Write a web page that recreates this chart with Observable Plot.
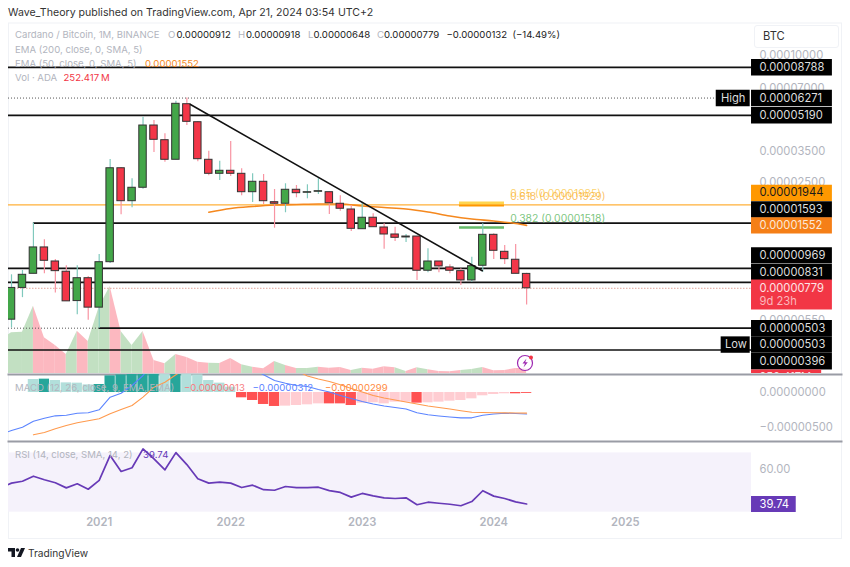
<!DOCTYPE html>
<html><head><meta charset="utf-8">
<style>
html,body{margin:0;padding:0;background:#fff;width:850px;height:567px;overflow:hidden;font-family:Inter,"Noto Sans",sans-serif}
#root{position:relative;width:850px;height:567px}
#root svg.pane{position:absolute;left:0;top:0;background:transparent}
.t{position:absolute;white-space:nowrap;line-height:1;transform:translateY(-50%);color:#b2b5be;font-size:9.6px}
</style>
<script src="https://cdn.jsdelivr.net/npm/d3@7"></script>
<script src="https://cdn.jsdelivr.net/npm/@observablehq/plot@0.6"></script>
</head><body><div id="root"></div>
<script>
// All prices in units of 1e-8 BTC. Month index 0 = May 2020, one candle per month.
const opens  = [552,782,913,1219,1045,934,677,870,630,1037,2905,2024,2345,4641,3951,3187,5863,4812,3187,2733,2825,2733,2234,2504,2002,1968,2294,2220,2244,2234,1968,1848,1489,1688,1517,1405,1360,1374,944,1045,979,940,849,997,1400,1162,1065,912];
const highs  = [903,947,1593,1326,1068,997,997,887,1128,3197,2928,2587,5084,4903,4238,6059,6271,4850,3502,3138,3895,2887,2733,2712,2301,2450,2404,2423,2587,2234,2147,1931,2002,1763,1580,1522,1405,1374,1202,1045,1008,965,1096,1580,1416,1246,1260,918];
const lows   = [504,703,913,913,739,675,583,548,503,1023,1744,1884,2309,3452,3103,3187,4641,3117,2674,2540,2654,2147,1996,1952,1505,1783,2101,2078,2178,1750,1814,1452,1489,1522,1196,1302,1287,849,924,924,913,804,833,929,1068,1012,913,648];
const closes = [782,903,1219,1053,940,675,870,630,1037,2905,2024,2345,4641,3968,3187,5888,4833,3208,2733,2825,2733,2234,2504,2024,1968,2294,2210,2234,2259,1980,1863,1495,1688,1522,1405,1355,1374,944,1045,990,944,849,993,1400,1175,1072,913,779];
const volumeLead = 1700;
const volumes = [2035,2065,3365,1785,1400,950,2115,1600,3315,4350,2100,1400,2100,650,485,950,800,565,515,500,750,435,315,235,600,400,250,250,315,265,300,150,265,215,335,285,100,285,185,100,85,150,200,300,135,150,250,252.417];
const emaMonths = [18,20,22,24,26,28,30,32,34,36,38,40,42,44,46,47];
const emaValues = [1794,1869,1910,1940,1952,1963,1963,1921,1889,1858,1798,1721,1665,1629,1585,1552];
const trendMonths = [16.33,42.95];
const trendValues = [5843,944];
const macdLead = -610;
const macdLine = [-552,-504,-417,-373,-339,-330,-301,-295,-251,-68,-10,102,247,450,560,620,720,730,680,600,530,450,350,257,174,135,102,87,44,7,-44,-87,-131,-167,-196,-218,-240,-295,-324,-341,-356,-368,-368,-330,-312,-301,-305,-312];
const signalLine = [null,null,-615,-581,-527,-479,-440,-411,-382,-309,-247,-189,-68,77,150,257,360,460,530,590,620,620,580,520,460,400,320,240,196,160,112,58,7,-44,-80,-109,-138,-167,-196,-218,-240,-264,-286,-291,-295,-296,-298,-299];
const histogram = [null,null,189,194,174,140,136,111,116,242,256,290,300,300,261,261,261,256,174,136,77,-77,-116,-174,-203,-198,-189,-179,-165,-165,-165,-189,-155,-150,-165,-140,-140,-155,-150,-140,-126,-116,-92,-48,-29,-19,-19,-13];
const histStrong = [3,8,9,10,11,12,13,15,21,22,23,24,29,30,31,37,46,47];
const rsiLead = 49.5;
const rsi = [52.1,53.2,56.2,54.1,52.3,49.3,51.7,48.5,53.7,68.5,59,61.2,72.4,66.5,60,70.2,63.1,54.7,52.1,52.7,52.1,49.5,50.9,48.2,47.9,50.1,49.4,49.5,49.7,47.7,46.6,43.8,46,44.6,43.4,43,43.4,39.3,40.8,40.2,39.6,38.7,41.2,47.6,44.4,43,41,39.74];
const years = [2021,2022,2023,2024,2025];
const priceTicks = [10000,7000,3500,2500,550];
const levels = [{v:8788,from:-1},{v:5190,from:-1},{v:1593,from:2},{v:969,from:-1},{v:831,from:-1},{v:503,from:8},{v:396,from:-1}];
const priceTags = [8788,6271,5190,1944,1593,1552,969,831,503,503,396];
const tagNudge  = [0,0,0,-12,-13.6,0,-13,-10.3,0,16.4,11.2];
const tagFill   = ["#000","#000","#000","#ff9800","#000","#f57f17","#000","#000","#000","#000","#000"];
const tagInk    = ["#ddd","#ddd","#ddd","#1a1a1a","#ddd","#fbe9d7","#ddd","#ddd","#ddd","#ddd","#ddd"];
const lastPrice = 779, athPrice = 6271, lowPrice = 503, fib65 = 1985, fib618 = 1929, fib382 = 1518, emaLine = 1944;

const font = 'Inter,"Noto Sans",sans-serif';
const fmt = v => (v/1e8).toFixed(8);
const signed = v => (v<0?"\u2212":"")+Math.abs(v/1e8).toFixed(8);
const idx = d3.range(48);
const xDomain = [-0.274, 75.73];
const paneEnd = 67.52, tagEnd = 74.9, tagText = 68.25, xLeft = xDomain[0];
const up = "#43a649", down = "#f33648", wickUp = "#80c9bd", wickDown = "#f894a2", ink = "#111";
const root = document.getElementById("root");

function pane(top, bottom, yOpts, marks){
  const p = Plot.plot({
    width:850, height:567, marginTop:top, marginBottom:567-bottom, marginLeft:8, marginRight:9,
    x:{type:"linear", domain:xDomain, axis:null},
    y:{axis:null, ...yOpts},
    color:{type:"identity"},
    style:{fontFamily:font, background:"transparent"},
    marks
  });
  p.classList.add("pane");
  root.appendChild(p);
  return p;
}
const label = (data,o)=>Plot.text(data,{fontSize:11.2,textAnchor:"start",...o});

// outer frame
pane(22.5,538,{domain:[0,1]},[Plot.frame({stroke:"#f0f2f6"})]);

// volume (drawn underneath the price candles)
const volPts = [volumeLead,...volumes];
const volSegs = d3.range(48).flatMap(k=>{
  const i=k, color = closes[i]>=opens[i] ? "#c2e0c2" : "#fcb8c0";
  return [{seg:k,i:i-1,v:volPts[k],color},{seg:k,i:i,v:volPts[k+1],color}];
});
pane(23,373,{type:"linear",domain:[0,17500]},[
  Plot.area(volSegs,{x1:"i",y1:()=>0,y2:"v",z:"seg",fill:"color",clip:true}),
]);

// price pane
const hLine = o=>Plot.ruleY(o.d,{x1:o.a,x2:o.b,y:d=>d,stroke:o.c,strokeWidth:o.w,strokeDasharray:o.dash,clip:true});
const greenIdx = idx.filter(i=>closes[i]>=opens[i]), redIdx = idx.filter(i=>closes[i]<opens[i]);
const wicks = (ii,c)=>Plot.ruleX(ii,{x:i=>i,y1:i=>lows[i],y2:i=>highs[i],stroke:c,strokeWidth:1.2,clip:true});
const bodies = (ii,c)=>Plot.rect(ii,{x1:i=>i-.34,x2:i=>i+.34,y1:i=>opens[i],y2:i=>closes[i],fill:c,stroke:"#333",strokeWidth:1,clip:true});
const tagMarks = priceTags.flatMap((v,k)=>[
  Plot.ruleY([v],{x1:paneEnd,x2:tagEnd,y:d=>d,stroke:tagFill[k],strokeWidth:16.4,dy:tagNudge[k]}),
  label([v],{x:()=>tagText,y:d=>d,text:d=>fmt(d),fill:tagInk[k],dy:tagNudge[k]})
]);
pane(23,373,{type:"log",domain:[306,14203]},[
  label(priceTicks,{x:()=>tagText,y:d=>d,text:d=>fmt(d),fill:"#b2b5be"}),
  hLine({d:[emaLine],a:xLeft,b:paneEnd,c:"#ffb039",w:1.2}),
  hLine({d:[athPrice],a:xLeft,b:64.3,c:"#555",w:1,dash:"1,2"}),
  hLine({d:[lowPrice],a:xLeft,b:8,c:"#555",w:1,dash:"1,2"}),
  hLine({d:[lastPrice],a:xLeft,b:paneEnd,c:"#e2a59a",w:1,dash:"1.5,1.5"}),
  ...levels.map(l=>Plot.ruleY([l.v],{x1:Math.max(l.from,xLeft),x2:paneEnd,y:d=>d,stroke:ink,strokeWidth:1.7,clip:true})),
  Plot.ruleY([fib65],{x1:40.88,x2:44.98,y:d=>d,stroke:"#ffd54f",strokeWidth:3}),
  Plot.ruleY([fib618],{x1:40.88,x2:44.98,y:d=>d,stroke:"#ff9800",strokeWidth:2}),
  Plot.ruleY([fib382],{x1:40.88,x2:44.98,y:d=>d,stroke:"#66bb6a",strokeWidth:2.4}),
  Plot.line(emaMonths,{x:d=>d,y:(d,k)=>emaValues[k],stroke:"#f5881e",strokeWidth:1.6,curve:"monotone-x"}),
  wicks(greenIdx,wickUp), wicks(redIdx,wickDown),
  bodies(greenIdx,up), bodies(redIdx,down),
  Plot.line(trendMonths,{x:d=>d,y:(d,k)=>trendValues[k],stroke:"#111",strokeWidth:1.6}),
  Plot.text([fib65],{x:()=>45.5,y:d=>d,text:()=>"0.65 (0.00001985)",fill:"#fbc02d",fillOpacity:.7,fontSize:10.4,textAnchor:"start",dy:-9}),
  Plot.text([fib618],{x:()=>45.5,y:d=>d,text:()=>"0.618 (0.00001929)",fill:"#f9a825",fillOpacity:.7,fontSize:10.4,textAnchor:"start",dy:-9}),
  Plot.text([fib382],{x:()=>45.5,y:d=>d,text:()=>"0.382 (0.00001518)",fill:"#66bb6a",fillOpacity:.85,fontSize:10.4,textAnchor:"start",dy:-9}),
  ...tagMarks,
  Plot.ruleY([athPrice],{x1:64.3,x2:67.4,y:d=>d,stroke:"#000",strokeWidth:16.4}),
  Plot.text([athPrice],{x:()=>65.85,y:d=>d,text:()=>"High",fill:"#ddd",fontSize:11.2}),
  Plot.ruleY([lowPrice],{x1:64.75,x2:67.4,y:d=>d,stroke:"#000",strokeWidth:16.4,dy:16.4}),
  Plot.text([lowPrice],{x:()=>66.1,y:d=>d,text:()=>"Low",fill:"#ddd",fontSize:11.2,dy:16.4}),
  Plot.ruleY([lastPrice],{x1:paneEnd,x2:tagEnd,y:d=>d,stroke:"#f23645",strokeWidth:30,dy:6.3}),
  label([lastPrice],{x:()=>tagText,y:d=>d,text:d=>fmt(d),fill:"#fde4e6"}),
  label([lastPrice],{x:()=>tagText,y:d=>d,text:()=>"9d 23h",fill:"#fbb7bd",dy:13.3}),
]);

// truncated volume tag at the bottom of the price pane
pane(23,373,{type:"linear",domain:[0,17500]},[
  Plot.ruleY([252.417],{x1:paneEnd,x2:73.92,y:d=>d,stroke:"#f23645",strokeWidth:16,dy:9,clip:true}),
  label([252.417],{x:()=>tagText,y:d=>d,text:()=>"252.417M",fill:"#fde4e6",dy:9,clip:true}),
]);

// MACD pane
const hData = idx.filter(i=>histogram[i]!=null);
const isStrong = i=>histStrong.includes(i);
const macdPts = [macdLead,...macdLine].map((v,k)=>({i:k-1,v}));
const sigPts = signalLine.map((v,i)=>({i,v}));
pane(374,441,{type:"linear",domain:[-712,261.6]},[
  Plot.frame({anchor:"top",stroke:"#9a9ca5",strokeWidth:2}),
  Plot.rect(hData,{x1:i=>i-.47,x2:i=>i+.47,y1:()=>0,y2:i=>histogram[i],
    fill:i=>histogram[i]>=0?(isStrong(i)?"#26a69a":"#b2dfdb"):(isStrong(i)?"#ff5252":"#ffcdd2"),clip:true}),
  Plot.line(macdPts,{x:"i",y:"v",stroke:"#5b84ff",strokeWidth:1.1,clip:true}),
  Plot.line(sigPts,{x:"i",y:"v",stroke:"#ff9a4d",strokeWidth:1.1,clip:true}),
  label([0],{x:()=>tagText,y:d=>d,text:d=>signed(d),fill:"#b2b5be"}),
  label([-500],{x:()=>tagText,y:d=>d,text:d=>signed(d),fill:"#b2b5be"}),
]);

// RSI pane
const rsiPts = [rsiLead,...rsi].map((v,k)=>({i:k-1,v}));
pane(441,538,{type:"linear",domain:[19.3,76.77]},[
  Plot.frame({anchor:"top",stroke:"#9a9ca5",strokeWidth:2}),
  Plot.rect([0],{x1:()=>xLeft,x2:()=>paneEnd,y1:()=>34.9,y2:()=>70,fill:"#f5f2fb"}),
  Plot.line(rsiPts,{x:"i",y:"v",stroke:"#673ab7",strokeWidth:1.7,clip:true}),
  label([60],{x:()=>tagText,y:d=>d,text:d=>d.toFixed(2),fill:"#b2b5be"}),
  Plot.ruleY([rsi[47]],{x1:paneEnd,x2:71.6,y:d=>d,stroke:"#673ab7",strokeWidth:16}),
  label([rsi[47]],{x:()=>tagText,y:d=>d,text:d=>d.toFixed(2),fill:"#fff"}),
  Plot.text(years,{x:d=>(d-2020)*12-4,text:d=>String(d),frameAnchor:"bottom",dy:-13,fontSize:11.2,fontWeight:600,fill:"#b2b5be"}),
]);

// page text: header, legends, logo
const legend = [
  [8,13,"Wave_Theory published on TradingView.com, Apr 21, 2024 03:54 UTC+2","#333",10.6],
  [15,35,"Cardano / Bitcoin, 1M, BINANCE"],
  [168,35,"O"],[176.5,35,"0.00000912","#222"],
  [238,35,"H"],[246,35,"0.00000918","#222"],
  [308,35,"L"],[313.5,35,"0.00000648","#222"],
  [377,35,"C"],[384,35,"0.00000779","#222"],
  [446.5,35,"\u22120.00000132","#222"],[512.5,35,"(\u221214.49%)","#222"],
  [15,49.5,"EMA (200, close, 0, SMA, 5)"],
  [15,63.5,"EMA (50, close, 0, SMA, 5)"],[145,63.5,"0.00001552","#f5881e"],
  [15,77.5,"Vol \u00b7 ADA"],[63.5,77.5,"252.417\u2009M","#f23645"],
  [15,387.5,"MACD (12, 26, close, 9, EMA, EMA)"],
  [184,387.5,"\u22120.00000013","#f77c80"],[252.5,387.5,"\u22120.00000312","#5b84ff"],[325,387.5,"\u22120.00000299","#ff8a3d"],
  [15,454.5,"RSI (14, close, SMA, 14, 2)"],[143,454.5,"39.74","#673ab7"],
];
for(const [x,y,s,c,fs] of legend){
  const e=document.createElement("div");e.className="t";e.textContent=s;
  e.style.left=x+"px";e.style.top=y+"px";if(c)e.style.color=c;if(fs)e.style.fontSize=fs+"px";
  root.appendChild(e);
}
const box=document.createElement("div");
box.style.cssText="position:absolute;left:754px;top:25px;width:83px;height:21px;border:1px solid #f0f2f6;border-radius:3px;font-size:11.2px;color:#333;line-height:21px;padding-left:0;text-indent:8px";
box.textContent="BTC";root.appendChild(box);
const logo=document.createElement("div");
logo.style.cssText="position:absolute;left:8px;top:546px;width:120px;height:14px;font-size:10.2px;color:#333;line-height:14px";
logo.innerHTML='<svg width="17" height="9" viewBox="0 0 34 18" style="position:absolute;left:0;top:2px"><path d="M0 0H14V18H7V7H0Z" fill="#131722"/><circle cx="19" cy="4" r="3.6" fill="#131722"/><path d="M26 0H34L26 18H18Z" fill="#131722"/></svg><span style="position:absolute;left:20px;top:0">TradingView</span>';
root.appendChild(logo);
const bolt=document.createElement("div");
bolt.style.cssText="position:absolute;left:516px;top:353px;width:20px;height:20px";
bolt.innerHTML='<svg width="20" height="20" viewBox="0 0 20 20"><circle cx="9" cy="10" r="7.5" fill="#fff" fill-opacity=".8" stroke="#9c27b0" stroke-width="1.2"/><path d="M10.5 5.5L6.5 10.5H9L7.5 14.5L11.8 9.2H9.2Z" fill="#9c27b0"/><circle cx="15" cy="4.5" r="2" fill="#f23645"/></svg>';
root.appendChild(bolt);
</script></body></html>
